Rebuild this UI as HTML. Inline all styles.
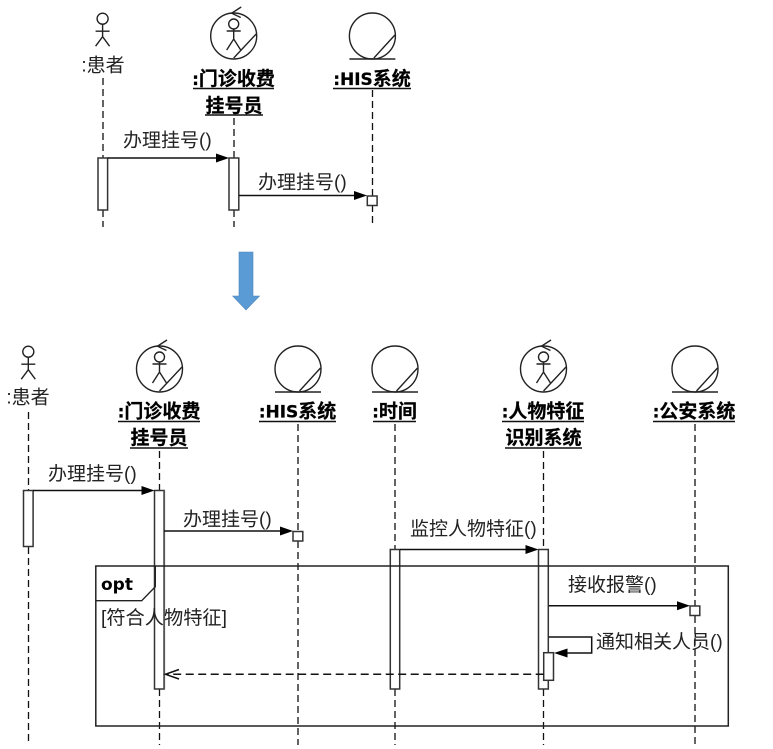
<!DOCTYPE html>
<html>
<head>
<meta charset="utf-8">
<style>
html,body{margin:0;padding:0;background:#fff;width:773px;height:749px;overflow:hidden}
svg{display:block}
text{font-family:"Liberation Sans","Noto Sans CJK SC",sans-serif;font-size:19px;fill:#222}
.b{font-weight:700;fill:#000;text-anchor:middle;stroke:#000;stroke-width:.25}
.l{font-family:"DejaVu Sans","Noto Sans CJK SC",sans-serif;font-size:17px;font-weight:700}
.c{text-anchor:middle}
.ll{stroke:#111;stroke-width:1.3;stroke-dasharray:7 4;fill:none}
.s{stroke:#222;stroke-width:1.4;fill:none}
.m{stroke:#111;stroke-width:1.5;fill:none}
.box{stroke:#333;stroke-width:1.5;fill:#fff}
.u{stroke:#111;stroke-width:1.4}
</style>
</head>
<body>
<svg width="773" height="749" viewBox="0 0 773 749" xmlns="http://www.w3.org/2000/svg">
<defs>
<g id="actor" class="s">
<circle cx="0" cy="0" r="5.5"/>
<path d="M0 5.5V18M-7 12.5H7M-7 27.5L0 18L7 27.5"/>
</g>
<g id="ctrl" class="s">
<circle cx="0" cy="0" r="23"/>
<path d="M7.5 -29L-2 -22.8L7 -18.5"/>
<path d="M22.5 -2L0 22"/>
<circle cx="0" cy="-12" r="5"/>
<path d="M0 -7V3M-7 -5H7M-7 14L0 3L7 14"/>
</g>
<g id="ent" class="s">
<circle cx="0" cy="0" r="23"/>
<path d="M-23 23H23M22.5 -1L1.5 22"/>
</g>
<polygon id="hd" points="0,0 -13,-4.5 -13,4.5" fill="#000"/>
</defs>

<!-- top diagram -->
<path class="ll" d="M103 78V158M103 210V227M234 118V158M234 210V227M372.5 90V196M372.5 205V227"/>
<use href="#actor" x="102.6" y="18.7"/>
<use href="#ctrl" x="233.7" y="36"/>
<use href="#ent" x="372.4" y="36"/>

<text x="103" y="71.5" class="c">:患者</text>
<text x="233.5" y="85" class="b"><tspan class="l">:</tspan>门诊收费</text>
<path class="u" d="M193 88.5H274"/>
<text x="234" y="112" class="b">挂号员</text>
<path class="u" d="M205 115H263"/>
<text x="372" y="85" class="b"><tspan class="l">:HIS</tspan>系统</text>
<path class="u" d="M333 88.5H411"/>

<rect class="box" x="98" y="158" width="9.6" height="52"/>
<rect class="box" x="229" y="158" width="9.8" height="52"/>
<rect class="box" x="367.3" y="196" width="9.8" height="9.5"/>
<path class="m" d="M107.6 158H218"/><use href="#hd" x="229" y="158"/>
<path class="m" d="M239 195.5H356"/><use href="#hd" x="367" y="195.5"/>
<text x="123" y="146.5">办理挂号()</text>
<text x="258" y="188.5">办理挂号()</text>

<!-- arrow -->
<polygon points="239,252 253,252 253,296 259.5,296 246,310 232.7,296 239,296" fill="#5b9bd5" stroke="#4a84b8" stroke-width="0.6"/>

<!-- bottom diagram -->
<path class="ll" d="M28.5 412V490M28.5 547V745M159.5 451V490M159.5 689V745M298 424V531M298 541V745M395 424V549M395 689V745M543.5 451V549M543.5 689V745M695 424V606M695 616V745"/>
<use href="#actor" x="28.3" y="351.7"/>
<use href="#ctrl" x="159.5" y="369"/>
<use href="#ent" x="298" y="369"/>
<use href="#ent" x="395" y="369"/>
<use href="#ctrl" x="543.5" y="369"/>
<use href="#ent" x="695" y="369"/>

<text x="28" y="403.5" class="c">:患者</text>
<text x="159" y="417.5" class="b"><tspan class="l">:</tspan>门诊收费</text>
<path class="u" d="M118 421.5H200"/>
<text x="159" y="444" class="b">挂号员</text>
<path class="u" d="M130 448H188"/>
<text x="297.5" y="417.5" class="b"><tspan class="l">:HIS</tspan>系统</text>
<path class="u" d="M259 421.5H336"/>
<text x="394.5" y="417.5" class="b"><tspan class="l">:</tspan>时间</text>
<path class="u" d="M373 421.5H416"/>
<text x="543" y="417.5" class="b"><tspan class="l">:</tspan>人物特征</text>
<path class="u" d="M502 421.5H584"/>
<text x="543.5" y="444" class="b">识别系统</text>
<path class="u" d="M505 448H582"/>
<text x="694" y="417.5" class="b"><tspan class="l">:</tspan>公安系统</text>
<path class="u" d="M653 421.5H735"/>

<rect class="box" x="23.5" y="490.5" width="9.6" height="56"/>
<rect class="box" x="154.5" y="490.5" width="9.6" height="198.5"/>
<path d="M164.2 490.5V689" stroke="#555" stroke-width="1.8"/>
<rect class="box" x="293" y="531.5" width="9.8" height="9.5"/>
<rect class="box" x="390.3" y="549.5" width="9.4" height="139.5"/>
<rect class="box" x="538.5" y="549.5" width="9.8" height="139.5"/>
<rect class="box" x="690" y="606" width="9.8" height="9.5"/>

<!-- opt frame -->
<rect x="95.8" y="566" width="632.5" height="160" fill="none" stroke="#222" stroke-width="1.5"/>
<path class="s" d="M95.8 600.7H141.7L155.3 586.7V566"/>
<text x="101" y="590" class="l" style="fill:#000">opt</text>
<text x="101" y="624" textLength="126" lengthAdjust="spacingAndGlyphs">[符合人物特征]</text>

<!-- bottom messages -->
<path class="m" d="M33 490.5H143"/><use href="#hd" x="154.5" y="490.5"/>
<path class="m" d="M164 531H282"/><use href="#hd" x="293" y="531"/>
<path class="m" d="M400 549.5H527"/><use href="#hd" x="538.5" y="549.5"/>
<path class="m" d="M548.5 605.8H679"/><use href="#hd" x="690" y="605.8"/>
<path class="m" d="M548.5 637H591.7V653H566"/>
<rect class="box" x="543.7" y="652.7" width="9.8" height="27.6"/>
<polygon points="554,653 567.5,648.5 567.5,657.5" fill="#000"/>
<path class="m" d="M543.7 674.3H166" stroke-dasharray="8 4.5"/>
<path class="m" d="M179 669.5L165.5 674.3L179 679"/>

<text x="48" y="480">办理挂号()</text>
<text x="183" y="525.5">办理挂号()</text>
<text x="410" y="535">监控人物特征()</text>
<text x="568" y="591">接收报警()</text>
<text x="596" y="648">通知相关人员()</text>
</svg>
</body>
</html>
